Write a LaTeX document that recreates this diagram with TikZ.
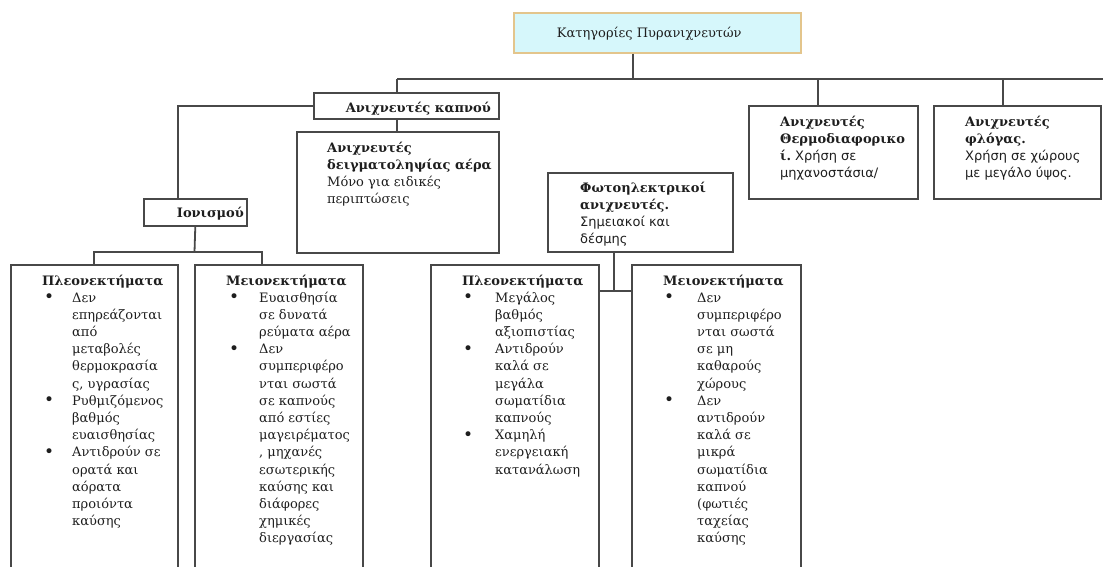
\documentclass[tikz,border=0pt]{standalone}
\usepackage{fontspec}
\setmainfont{DejaVu Serif}
\newfontfamily\sansgr{DejaVu Sans}
\definecolor{lc}{HTML}{484848}
\definecolor{tc}{HTML}{1E1E1E}
\definecolor{topfill}{HTML}{D6F7FB}
\definecolor{topdraw}{HTML}{E3C58C}
\newcommand{\bul}{{\fontsize{17}{17}\selectfont\raisebox{-0.5pt}{•}}}
\begin{document}
\begin{tikzpicture}[x=1pt,y=-1pt,
  box/.style={draw=lc, line width=1.6pt, anchor=north west, inner sep=0, fill=white},
  conn/.style={draw=lc, line width=1.8pt},
  txt/.style={inner sep=0, text=tc, font=\fontsize{13}{17.2}\selectfont},
  bld/.style={inner sep=0, text=tc, font=\fontsize{13}{17.2}\selectfont\bfseries}]
\useasboundingbox (0,0) rectangle (1103,566);
\clip (0,0) rectangle (1103,566);
\fill[white] (0,0) rectangle (1103,566);

% boxes
\node[box, draw=topdraw, fill=topfill, minimum width=287pt, minimum height=40pt] (top) at (513,12) {};
\node[box, minimum width=185pt, minimum height=26pt] (smoke) at (313,92) {};
\node[box, minimum width=202pt, minimum height=121pt] (sample) at (296,131) {};
\node[box, minimum width=103pt, minimum height=27pt] (ion) at (143,198) {};
\node[box, minimum width=169pt, minimum height=93pt] (thermo) at (748,105) {};
\node[box, minimum width=167pt, minimum height=93pt] (flame) at (933,105) {};
\node[box, minimum width=185pt, minimum height=79pt] (photo) at (547,172) {};
\node[box, minimum width=167pt, minimum height=320pt] (ionAdv) at (10,264) {};
\node[box, minimum width=168pt, minimum height=320pt] (ionDis) at (194,264) {};
\node[box, minimum width=168pt, minimum height=320pt] (phAdv) at (430,264) {};
\node[box, minimum width=169pt, minimum height=320pt] (phDis) at (631,264) {};

% connectors
\coordinate (busL) at (397,79);
\coordinate (busR) at (1103,79);
\coordinate (ionbus) at (194.5,252);
\coordinate (phj) at (614,291);
\draw[conn] (busL) -- (busR);
\draw[conn] ([xshift=-24.5pt]top.south) -- ([xshift=-24.5pt]top.south |- busL);
\draw[conn] (busL) -- (busL |- smoke.north);
\draw[conn] (smoke.south -| busL) -- (sample.north -| busL);
\draw[conn] ([xshift=-15.5pt]thermo.north) -- ([xshift=-15.5pt]thermo.north |- busL);
\draw[conn] ([xshift=-14.5pt]flame.north) -- ([xshift=-14.5pt]flame.north |- busL);
\draw[conn] (smoke.west) -| ([xshift=-17.5pt]ion.north);
\draw[conn] (ion.south) -- (ionbus);
\draw[conn] (ionAdv.north) -- (ionAdv.north |- ionbus) -- ([xshift=-17pt]ionDis.north |- ionbus) -- ([xshift=-17pt]ionDis.north);
\draw[conn] (photo.south -| phj) -- (phj);
\draw[conn] (phAdv.east |- phj) -- (phDis.west |- phj);

% texts
\node[txt] (ttop) at ([xshift=-8pt,yshift=-1pt]top.center) {Κατηγορίες Πυρανιχνευτών};
\node[bld, anchor=base east] (tsmoke) at (491,112) {Ανιχνευτές καπνού};
\node[bld, anchor=base east] (tion) at (244,217) {Ιονισμού};
\node[txt, anchor=base west] (tsample) at (327,152) {\begin{tabular}[t]{@{}l@{}}
\textbf{Ανιχνευτές}\\
\textbf{δειγματοληψίας αέρα}\\
Μόνο για ειδικές\\
περιπτώσεις
\end{tabular}};
\node[txt, anchor=base west] (tthermo) at (780,126) {\begin{tabular}[t]{@{}l@{}}
\textbf{Ανιχνευτές}\\
\textbf{Θερμοδιαφορικο}\\
\textbf{ί.}{\sansgr\ Χρήση σε}\\
{\sansgr μηχανοστάσια/}
\end{tabular}};
\node[txt, anchor=base west] (tflame) at (965,126) {\begin{tabular}[t]{@{}l@{}}
\textbf{Ανιχνευτές}\\
\textbf{φλόγας.}\\
{\sansgr Χρήση σε χώρους}\\
{\sansgr με μεγάλο ύψος.}
\end{tabular}};
\node[txt, anchor=base west] (tphoto) at (580,192) {\begin{tabular}[t]{@{}l@{}}
\textbf{Φωτοηλεκτρικοί}\\
\textbf{ανιχνευτές.}\\
{\sansgr Σημειακοί και}\\
{\sansgr δέσμης}
\end{tabular}};

% list titles
\node[bld, anchor=base west] (hIA) at (42,285) {Πλεονεκτήματα};
\node[bld, anchor=base west] (hID) at (226,285) {Μειονεκτήματα};
\node[bld, anchor=base west] (hPA) at (462,285) {Πλεονεκτήματα};
\node[bld, anchor=base west] (hPD) at (663,285) {Μειονεκτήματα};

% lists
\node[txt, anchor=base west] (lIA) at (44,302) {\begin{tabular}[t]{@{}p{28pt}@{}l@{}}
\bul&Δεν\\
&επηρεάζονται\\
&από\\
&μεταβολές\\
&θερμοκρασία\\
&ς, υγρασίας\\
\bul&Ρυθμιζόμενος\\
&βαθμός\\
&ευαισθησίας\\
\bul&Αντιδρούν σε\\
&ορατά και\\
&αόρατα\\
&προιόντα\\
&καύσης
\end{tabular}};
\node[txt, anchor=base west] (lID) at (229,302) {\begin{tabular}[t]{@{}p{30pt}@{}l@{}}
\bul&Ευαισθησία\\
&σε δυνατά\\
&ρεύματα αέρα\\
\bul&Δεν\\
&συμπεριφέρο\\
&νται σωστά\\
&σε καπνούς\\
&από εστίες\\
&μαγειρέματος\\
&, μηχανές\\
&εσωτερικής\\
&καύσης και\\
&διάφορες\\
&χημικές\\
&διεργασίας
\end{tabular}};
\node[txt, anchor=base west] (lPA) at (463,302) {\begin{tabular}[t]{@{}p{32pt}@{}l@{}}
\bul&Μεγάλος\\
&βαθμός\\
&αξιοπιστίας\\
\bul&Αντιδρούν\\
&καλά σε\\
&μεγάλα\\
&σωματίδια\\
&καπνούς\\
\bul&Χαμηλή\\
&ενεργειακή\\
&κατανάλωση
\end{tabular}};
\node[txt, anchor=base west] (lPD) at (664,302) {\begin{tabular}[t]{@{}p{33pt}@{}l@{}}
\bul&Δεν\\
&συμπεριφέρο\\
&νται σωστά\\
&σε μη\\
&καθαρούς\\
&χώρους\\
\bul&Δεν\\
&αντιδρούν\\
&καλά σε\\
&μικρά\\
&σωματίδια\\
&καπνού\\
&(φωτιές\\
&ταχείας\\
&καύσης
\end{tabular}};
\end{tikzpicture}
\end{document}
